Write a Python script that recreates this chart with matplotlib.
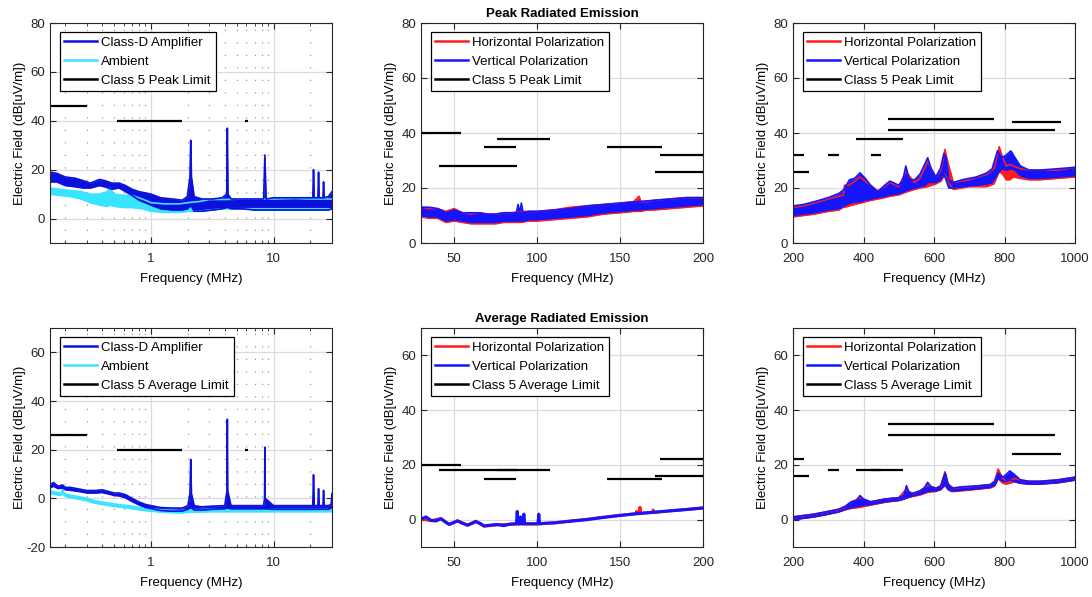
import matplotlib
matplotlib.use("Agg")
import matplotlib.pyplot as plt
from matplotlib.ticker import FixedLocator, NullFormatter, FixedFormatter

plt.rcParams['font.family'] = ['Liberation Sans', 'DejaVu Sans']
plt.rcParams['font.size'] = 9.5
plt.rcParams['axes.unicode_minus'] = False

# ---- 0.15 - 30 MHz, peak (class-D amplifier / ambient), MHz, dB[uV/m]
amp_pk_f = [0.15, 0.17, 0.20, 0.24, 0.28, 0.32, 0.38, 0.42, 0.48, 0.55, 0.62, 0.70, 0.80, 0.90, 1.0, 1.2, 1.5, 1.8,
            1.98, 2.08, 2.11, 2.14, 2.25, 2.6, 3.2, 3.8, 4.15, 4.2, 4.25, 4.5, 5.5, 7.0, 8.3, 8.5, 8.7, 10, 13, 17,
            20.9, 21.2, 21.5, 23.0, 23.3, 23.6, 25.3, 25.6, 25.9, 28, 30]
amp_pk_hi = [19, 18.5, 17, 16.5, 15.5, 14.5, 16, 15.5, 14.5, 14.5, 13.5, 12, 11, 10.5, 10, 8.5, 8, 7.5,
             9, 17, 32, 17, 9, 8, 8, 8.5, 10, 37, 10, 8, 8, 8, 8, 26, 8, 8.5, 8.5, 8.5,
             8.5, 20, 8.5, 8.5, 19, 8.5, 8.5, 15, 8.5, 9, 11]
amp_pk_lo = [15, 15, 13.5, 13, 12.5, 12.5, 13.5, 13, 12, 12.5, 11, 9.5, 7.5, 6.5, 5.5, 4, 3.5, 3.5,
             4, 5, 5, 5, 3, 3, 3.5, 4, 4.5, 4.5, 4.5, 4, 4, 3.5, 3.5, 3.5, 3.5, 3.5, 3.5, 3.5,
             3.5, 3.5, 3.5, 3.5, 3.5, 3.5, 3.5, 3.5, 3.5, 3.5, 4]
amb_pk_f = [0.15, 0.18, 0.22, 0.27, 0.32, 0.38, 0.44, 0.46, 0.50, 0.60, 0.70, 0.85, 1.0, 1.3, 1.7, 2.0, 2.5, 3.0,
            4.0, 6.0, 10, 15, 20, 25, 30]
amb_pk_hi = [12.5, 12, 11.5, 11, 10, 10, 11, 12.5, 10, 9.5, 9.5, 8, 6.5, 6, 6, 6.5, 7, 7.8, 7.8, 8, 8, 8.2, 8, 8, 8]
amb_pk_lo = [10, 9.5, 9, 8, 6.5, 5.5, 5, 5.5, 5, 4.5, 4.5, 4, 3, 2.5, 2.5, 3, 3, 3.5, 4, 4, 4, 4, 4, 4, 4]

# ---- 0.15 - 30 MHz, average
amp_av_f = [0.15, 0.16, 0.175, 0.19, 0.2, 0.22, 0.26, 0.3, 0.35, 0.4, 0.45, 0.5, 0.55, 0.62, 0.7, 0.8, 0.9, 1.0,
            1.2, 1.5, 1.8, 2.0, 2.08, 2.11, 2.14, 2.25, 2.6, 3.2, 4.0, 4.17, 4.2, 4.23, 4.5, 6, 8.3, 8.45, 8.5,
            8.55, 10, 15, 20.9, 21.2, 21.5, 23.0, 23.3, 23.6, 25.3, 25.6, 25.9, 28, 29.5, 30]
amp_av_hi = [5.5, 6.5, 5, 5.5, 4.5, 4.5, 3.8, 3.2, 3.2, 3.5, 2.8, 2.2, 2.2, 1.5, 0, -1.5, -2.5, -3,
             -3.8, -4, -4, -3, 2, 16, 2, -3, -3.5, -3.2, -3, 3, 32.5, 3, -3, -3, -3, 0, 21,
             0, -3, -3, -3, 9.7, -3, -3, 4, -3, -3, 3.3, -3, -3, -2.5, 2]
amp_av_lo = [4.2, 5, 4, 4.3, 3.5, 3.3, 2.8, 2.2, 2.2, 2.4, 1.8, 1.2, 1, 0.2, -1.3, -2.7, -3.7, -4.2,
             -5, -5.3, -5.2, -4.5, -4, -4, -4, -4.8, -4.8, -4.5, -4.3, -4, -4, -4, -4.3, -4.3, -4.3, -4.3, -4.3,
             -4.3, -4.5, -4.5, -4.5, -4.5, -4.5, -4.5, -4.5, -4.5, -4.5, -4.5, -4.5, -4.5, -4, -3.5]
amb_av_f = [0.15, 0.17, 0.185, 0.19, 0.195, 0.21, 0.25, 0.3, 0.35, 0.4, 0.5, 0.6, 0.7, 0.8, 1.0, 1.3, 1.7, 2.0,
            3, 5, 10, 20, 30]
amb_av_hi = [3, 2.5, 2.2, 3.8, 2.2, 1.5, 0.8, 0, -1, -1.5, -2.3, -2.8, -3.2, -3.7, -4.3, -4.8, -5, -4.8,
             -4.5, -4.5, -4.5, -4.5, -4.5]
amb_av_lo = [2, 1.5, 1.2, 2.5, 1.2, 0.5, -0.2, -1, -2, -2.5, -3.3, -3.8, -4.2, -4.7, -5.3, -5.8, -6, -5.8,
             -5.5, -5.5, -5.5, -5.5, -5.5]

# ---- 30 - 200 MHz, peak
v_pk1_f = [30, 35, 40, 45, 50, 55, 60, 65, 70, 75, 80, 85, 87.5, 88.5, 89.5, 90.5, 91.5, 95, 100, 110, 120, 130,
           140, 150, 160, 170, 180, 190, 200]
v_pk1_hi = [13, 13, 12.5, 11, 12, 11, 11, 11, 10.5, 10.5, 11, 11, 11, 14, 11, 14.5, 11, 11.5, 11.5, 12, 12.5, 13.5,
            14, 14.5, 15, 15.5, 16, 16.5, 16.5]
v_pk1_lo = [10, 9.5, 9.5, 8, 8.5, 8, 7.5, 7.5, 7.5, 7.5, 8, 8, 8, 8, 8, 8, 8, 8.5, 8.5, 9, 9.5, 10,
            11, 11.5, 12, 12.5, 13, 13.5, 14]
h_pk1_f = [30, 35, 40, 45, 50, 55, 60, 65, 70, 75, 80, 85, 90, 95, 100, 110, 120, 130, 140, 150, 158, 161.5, 162.5,
           166, 170, 180, 190, 200]
h_pk1_hi = [13, 12.5, 12.5, 11.5, 12.5, 11, 10.5, 11, 10.5, 10.5, 11, 11, 11.5, 11.5, 11.5, 12, 13, 13.5, 14, 14.5,
            15, 17, 15, 15, 15.5, 16, 16.5, 16.5]
h_pk1_lo = [9.5, 9, 9, 7.5, 8, 7.5, 7, 7, 7, 7, 7.5, 7.5, 7.5, 8, 8, 8.5, 9, 9.5, 10.5, 11, 11.5, 11.5, 11.5,
            12, 12, 12.5, 13, 13.5]

# ---- 200 - 1000 MHz, peak
v_pk2_f = [200, 230, 260, 300, 330, 345, 360, 375, 390, 405, 420, 440, 460, 475, 500, 512, 520, 530, 545, 560, 575,
           582, 592, 605, 618, 628, 634, 642, 655, 680, 720, 750, 765, 780, 792, 805, 818, 830, 845, 870, 900, 950,
           1000]
v_pk2_hi = [13.5, 14, 15, 16.5, 18, 19.5, 23, 23.5, 25.5, 23.5, 21, 18.5, 21, 22.5, 21, 23, 28, 23, 23, 25, 29,
            31, 27, 24, 27, 32.5, 31, 23, 22, 23, 24, 25.5, 27, 33.5, 31, 32, 33.5, 31, 28, 26.5, 26.5, 27, 27.5]
v_pk2_lo = [10, 10.5, 11, 12, 12.5, 13.5, 14.5, 15, 15, 15.5, 16, 16.5, 17, 17.5, 18, 18.5, 19, 19.5, 20, 20.5, 21,
            22, 22, 22, 23, 25, 23, 20, 20, 20.5, 21, 21.5, 22, 25, 27, 26.5, 27, 26.5, 24.5, 23.5, 23.5, 24, 24.5]
h_pk2_f = [200, 230, 260, 300, 330, 343, 346, 360, 390, 420, 440, 460, 475, 500, 520, 545, 560, 582, 605, 620, 631,
           640, 655, 700, 750, 770, 785, 795, 805, 815, 825, 845, 870, 900, 950, 1000]
h_pk2_hi = [13, 13.5, 14.5, 16, 17, 17.5, 21, 21, 24, 21, 19, 20.5, 22, 20.5, 26, 22, 23.5, 29.5, 24, 26.5, 34,
            29, 22, 23, 25, 27, 35, 31, 28, 28.5, 28, 27, 26.5, 26.5, 26.5, 27.5]
h_pk2_lo = [9.5, 10, 10.5, 11.5, 12, 13, 13, 13.5, 14.5, 15.5, 16, 16.5, 17, 17.5, 18.5, 19.5, 20, 20.5, 21.5, 22.5,
            25, 22, 19.5, 20.5, 20.5, 21.5, 26, 25, 23, 23, 24, 23.5, 23, 23, 23.5, 24]

# ---- 30 - 200 MHz, average
v_av1_f = [30, 33, 36, 39, 42, 45, 47, 50, 52, 55, 58, 61, 63, 66, 68, 72, 76, 80, 84, 87.5, 88, 88.5, 89.5, 90,
           90.5, 91.5, 92, 92.5, 96, 100.5, 101, 101.5, 105, 110, 120, 130, 140, 150, 160, 170, 180, 190, 200]
v_av1 = [0.2, 1.0, -0.3, -0.5, 0.3, -1, -1.7, -1, -0.5, -1.3, -2, -1.3, -0.7, -1.5, -2.3, -2, -1.8, -2.2, -1.6, -1.5,
         3, -1.5, -1.5, 1, -1.5, -1.5, 2, -1.5, -1.5, -1.5, 2, -1.5, -1.3, -1.2, -0.6, 0, 0.8, 1.5, 2.2, 2.7, 3.2,
         3.7, 4.3]
h_av1_f = [30, 36, 42, 47, 52, 58, 63, 68, 76, 84, 90, 100, 110, 120, 130, 140, 150, 159.5, 160, 160.5, 161.5, 162,
           162.5, 165, 169.5, 170, 170.5, 180, 190, 200]
h_av1 = [0.3, -0.4, 0.4, -1.8, -0.4, -2.1, -0.6, -2.4, -1.9, -1.7, -1.6, -1.6, -1.2, -0.5, 0.1, 0.9, 1.6, 2.1, 3,
         2.1, 2.2, 4.5, 2.2, 2.4, 2.6, 3.5, 2.6, 3.2, 3.7, 4.2]

# ---- 200 - 1000 MHz, average
v_av2_f = [200, 230, 260, 300, 330, 350, 365, 380, 390, 400, 420, 440, 460, 480, 500, 515, 522, 530, 545, 560, 572,
           582, 592, 605, 618, 626, 632, 640, 650, 680, 720, 760, 772, 782, 795, 805, 815, 828, 845, 870, 900, 950,
           1000]
v_av2_hi = [1, 1.5, 2, 3, 3.8, 5, 6.5, 7, 8.8, 7.5, 6.5, 7, 7.5, 7.8, 8, 9, 12.4, 9.5, 9.8, 10.5, 11.5, 13.6, 12,
            11.5, 12, 15, 17, 13, 11.5, 12, 12.3, 12.8, 14, 17, 15.5, 16.5, 17.8, 16.5, 14.5, 14, 14, 14.5, 15.5]
v_av2_lo = [0, 0.5, 1, 2, 2.8, 3.8, 4.3, 4.8, 5, 5.3, 5.5, 6, 6.5, 6.8, 7, 7.5, 8, 8.3, 8.8, 9.3, 9.8, 10.3, 10.5,
            10.5, 11, 12, 13, 11, 10.3, 10.8, 11.2, 11.8, 12.5, 15, 14, 14, 14.5, 14, 13.3, 13, 13, 13.5, 14.5]
h_av2_f = [200, 260, 300, 340, 360, 390, 420, 460, 500, 520, 540, 560, 582, 605, 620, 631, 640, 655, 700, 760, 772,
           782, 795, 805, 815, 828, 845, 870, 900, 950, 1000]
h_av2_hi = [1, 2, 3, 4, 6, 8, 6.5, 7.5, 8, 11, 9.5, 10.5, 12.5, 11.5, 12.5, 17.5, 13, 11.5, 12, 12.8, 14, 18.5, 15,
            14, 14.5, 15, 14.5, 14, 14, 14.5, 15.5]
h_av2_lo = [0, 1, 2, 3.3, 4, 4.5, 5.3, 6.3, 7, 7.8, 8.5, 9, 10, 10.3, 11, 12.5, 11, 10.3, 10.8, 11.6, 12.3, 15, 13.3,
            13, 13.3, 13.8, 13.3, 13, 13, 13.4, 14.4]

# ---- CISPR 25 class 5 limits: (start MHz, stop MHz, peak, average)
limit_bands = [(0.15, 0.30, 46, 26), (0.53, 1.8, 40, 20), (5.9, 6.2, 40, 20),
               (30, 54, 40, 20), (41, 88, 28, 18), (68, 87, 35, 15), (76, 108, 38, 18),
               (142, 175, 35, 15), (174, 230, 32, 22), (171, 245, 26, 16),
               (300, 330, 32, 18), (380, 512, 38, 18), (420, 450, 32, 18),
               (470, 770, 45, 35), (470, 944, 41, 31), (820, 960, 44, 24)]

C_AMP = '#0c10dd'
C_AMB = '#38e4ff'
C_H = '#ff1c1c'
C_V = '#1414ff'

fig = plt.figure(figsize=(10.92, 5.97), dpi=100)
W, H = 1092.0, 597.0
cols = [50, 421, 793]
rows = [(23, 243), (328, 547)]


def make_ax(c, r):
    x0 = cols[c]
    top, bot = rows[r]
    return fig.add_axes([x0 / W, 1 - bot / H, 282 / W, (bot - top) / H])


def band(ax, f, lo, hi, color, label=None):
    ax.fill_between(f, lo, hi, color=color, lw=0)
    ax.plot(f, lo, color=color, lw=1.2)
    ln, = ax.plot(f, hi, color=color, lw=1.2, label=label)
    return ln


def limits(ax, kind, fmin, fmax):
    for (a, b, pk, av) in limit_bands:
        if b < fmin or a > fmax:
            continue
        v = pk if kind == 'pk' else av
        ax.hlines(v, max(a, fmin), min(b, fmax), color='black', lw=1.6)
    return plt.Line2D([], [], color='black', lw=1.6)


def style(ax, xlim, ylim, yticks, logx=False):
    ax.set_xlim(*xlim)
    ax.set_ylim(*ylim)
    ax.set_yticks(yticks)
    if logx:
        ax.set_xscale('log')
        ax.xaxis.set_major_locator(FixedLocator([1, 10]))
        ax.xaxis.set_major_formatter(FixedFormatter(['1', '10']))
        ax.xaxis.set_minor_locator(FixedLocator([0.2, 0.3, 0.4, 0.5, 0.6, 0.7, 0.8, 0.9,
                                                 2, 3, 4, 5, 6, 7, 8, 9, 20]))
        ax.xaxis.set_minor_formatter(NullFormatter())
        ax.grid(which='minor', axis='x', color='0.6', lw=0.9, linestyle=(0, (1, 9)))
    ax.grid(which='major', color='0.86', lw=0.9)
    ax.set_axisbelow(True)
    ax.tick_params(which='both', direction='in', top=True, right=True, colors='0.15', labelsize=9.5)
    ax.tick_params(which='major', length=4)
    ax.tick_params(which='minor', length=2)
    ax.tick_params(axis='x', which='both', pad=7)
    for s in ax.spines.values():
        s.set_color('0.15')
        s.set_linewidth(0.8)
    ax.set_xlabel('Frequency (MHz)', labelpad=6)
    ax.set_ylabel('Electric Field (dB[uV/m])')
    ax.yaxis.set_label_coords(-0.085, 0.5)


def legend(ax, handles, labels):
    lg = ax.legend(handles, labels, loc='upper left', bbox_to_anchor=(0.035, 0.96), borderaxespad=0,
                   fancybox=False, framealpha=1, edgecolor='black', handlelength=2.5, handletextpad=0.3,
                   labelspacing=0.52, borderpad=0.35, fontsize=9.5)
    lg.get_frame().set_linewidth(0.9)
    for l in lg.get_lines():
        l.set_linewidth(1.8)


# top-left: 150 kHz - 30 MHz peak
ax = make_ax(0, 0)
h2 = band(ax, amb_pk_f, amb_pk_lo, amb_pk_hi, C_AMB)
h1 = band(ax, amp_pk_f, amp_pk_lo, amp_pk_hi, C_AMP)
h3 = limits(ax, 'pk', 0.15, 30)
style(ax, (0.15, 30), (-10, 80), [0, 20, 40, 60, 80], logx=True)
legend(ax, [h1, h2, h3], ['Class-D Amplifier', 'Ambient', 'Class 5 Peak Limit'])

# bottom-left: 150 kHz - 30 MHz average
ax = make_ax(0, 1)
h2 = band(ax, amb_av_f, amb_av_lo, amb_av_hi, C_AMB)
h1 = band(ax, amp_av_f, amp_av_lo, amp_av_hi, C_AMP)
h3 = limits(ax, 'av', 0.15, 30)
style(ax, (0.15, 30), (-20, 70), [-20, 0, 20, 40, 60], logx=True)
legend(ax, [h1, h2, h3], ['Class-D Amplifier', 'Ambient', 'Class 5 Average Limit'])

# top-middle: 30 - 200 MHz peak
ax = make_ax(1, 0)
h1 = band(ax, h_pk1_f, h_pk1_lo, h_pk1_hi, C_H)
h2 = band(ax, v_pk1_f, v_pk1_lo, v_pk1_hi, C_V)
h3 = limits(ax, 'pk', 30, 200)
style(ax, (30, 200), (0, 80), [0, 20, 40, 60, 80])
ax.set_xticks([50, 100, 150, 200])
ax.set_title('Peak Radiated Emission', fontweight='bold', fontsize=9.5, pad=4)
legend(ax, [h1, h2, h3], ['Horizontal Polarization', 'Vertical Polarization', 'Class 5 Peak Limit'])

# bottom-middle: 30 - 200 MHz average
ax = make_ax(1, 1)
h1, = ax.plot(h_av1_f, h_av1, color=C_H, lw=2.2)
h2, = ax.plot(v_av1_f, v_av1, color=C_V, lw=2.2)
h3 = limits(ax, 'av', 30, 200)
style(ax, (30, 200), (-10, 70), [0, 20, 40, 60])
ax.set_xticks([50, 100, 150, 200])
ax.set_title('Average Radiated Emission', fontweight='bold', fontsize=9.5, pad=4)
legend(ax, [h1, h2, h3], ['Horizontal Polarization', 'Vertical Polarization', 'Class 5 Average Limit'])

# top-right: 200 - 1000 MHz peak
ax = make_ax(2, 0)
h1 = band(ax, h_pk2_f, h_pk2_lo, h_pk2_hi, C_H)
h2 = band(ax, v_pk2_f, v_pk2_lo, v_pk2_hi, C_V)
h3 = limits(ax, 'pk', 200, 1000)
style(ax, (200, 1000), (0, 80), [0, 20, 40, 60, 80])
ax.set_xticks([200, 400, 600, 800, 1000])
legend(ax, [h1, h2, h3], ['Horizontal Polarization', 'Vertical Polarization', 'Class 5 Peak Limit'])

# bottom-right: 200 - 1000 MHz average
ax = make_ax(2, 1)
h1 = band(ax, h_av2_f, h_av2_lo, h_av2_hi, C_H)
h2 = band(ax, v_av2_f, v_av2_lo, v_av2_hi, C_V)
h3 = limits(ax, 'av', 200, 1000)
style(ax, (200, 1000), (-10, 70), [0, 20, 40, 60])
ax.set_xticks([200, 400, 600, 800, 1000])
legend(ax, [h1, h2, h3], ['Horizontal Polarization', 'Vertical Polarization', 'Class 5 Average Limit'])

fig.savefig('out.png', dpi=100)
